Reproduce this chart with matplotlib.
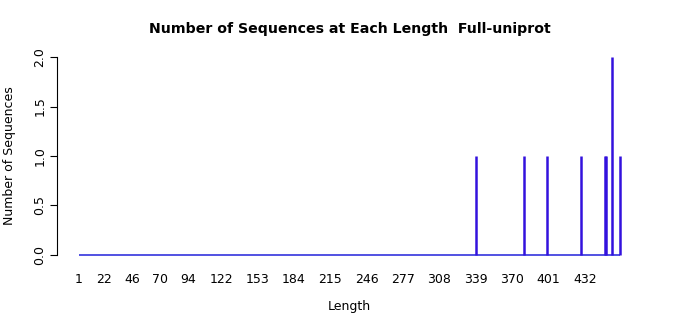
import matplotlib
matplotlib.use("Agg")
import matplotlib.pyplot as plt

lengths = [339, 380, 400, 429, 449, 450, 455, 462]
counts = [1, 1, 1, 1, 1, 1, 2, 1]
min_len = 1
x_tick_labels = [1, 22, 46, 70, 94, 122, 153, 184, 215, 246, 277, 308, 339, 370, 401, 432]
y_ticks = [0.0, 0.5, 1.0, 1.5, 2.0]

plt.rcParams['font.family'] = ['DejaVu Sans']
fig = plt.figure(figsize=(7, 3.15), dpi=100)
ax = fig.add_axes([0.082, 0.1654, 0.8346, 0.6787])

max_len = max(lengths)
ax.hlines(0, min_len, max_len, color='#3333DD', linewidth=1.2)
ax.vlines(lengths, 0, counts, color='#3311DD', linewidth=1.8)

span = max_len - min_len
ax.set_xlim(min_len - 0.04 * span, max_len + 0.04 * span)
ax.set_ylim(-0.08, 2.08)

for s in ['top', 'right', 'bottom']:
    ax.spines[s].set_visible(False)
ax.spines['left'].set_bounds(0, 2)
ax.spines['left'].set_linewidth(0.8)

ax.set_yticks(y_ticks)
ax.set_yticklabels([f"{v:.1f}" for v in y_ticks], rotation=90, va='center', fontsize=9)
ax.tick_params(axis='y', length=5, width=0.8, pad=3)

ax.set_xticks(x_tick_labels)
ax.set_xticklabels([str(v) for v in x_tick_labels], fontsize=9)
ax.tick_params(axis='x', length=0, pad=7)

ax.set_xlabel("Length", fontsize=9, labelpad=10)
ax.set_ylabel("Number of Sequences", fontsize=9, labelpad=12.5)
fig.text(0.5, 0.908, "Number of Sequences at Each Length  Full-uniprot",
         ha='center', va='center', fontsize=10.2, fontweight='bold')

fig.savefig("out.png", dpi=100)
